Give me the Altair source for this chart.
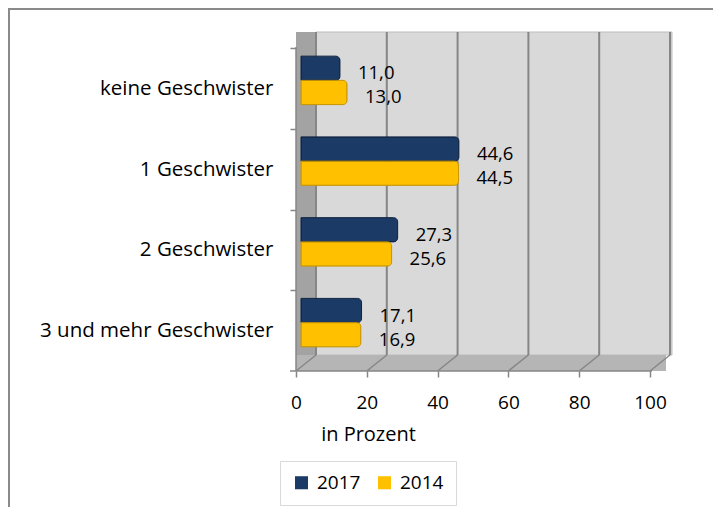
import altair as alt
import pandas as pd

categories = ["keine Geschwister", "1 Geschwister", "2 Geschwister", "3 und mehr Geschwister"]
series = ["2017", "2014"]
values_2017 = [11.0, 44.6, 27.3, 17.1]
values_2014 = [13.0, 44.5, 25.6, 16.9]
x_ticks = [0, 20, 40, 60, 80, 100]

rows = []
for c, a, b in zip(categories, values_2017, values_2014):
    rows.append({"cat": c, "Jahr": "2017", "v": a, "lab": f"{a:.1f}".replace(".", ",")})
    rows.append({"cat": c, "Jahr": "2014", "v": b, "lab": f"{b:.1f}".replace(".", ",")})
df = pd.DataFrame(rows)
ticks_df = pd.DataFrame({"t": x_ticks})
one = pd.DataFrame({"d": [0]})

FONT = "Open Sans"
GRID = "#868686"
STEP = 323 / 4.0

xscale = alt.Scale(domain=[0, 100], nice=False, zero=True)
yscale = alt.Scale(domain=categories, paddingInner=0.4, paddingOuter=0.2)

# 3D-like walls (decoration)
back_wall = alt.Chart(one).mark_rect(fill="#d9d9d9", stroke="#bdbdbd").encode(
    x=alt.value(15), x2=alt.value(371), y=alt.value(-8), y2=alt.value(315))
left_wall = alt.Chart(one).mark_rect(fill="#a3a3a3").encode(
    x=alt.value(-5), x2=alt.value(15), y=alt.value(-8), y2=alt.value(331))
floor = alt.Chart(one).mark_rect(fill="#b5b5b5").encode(
    x=alt.value(-5), x2=alt.value(365), y=alt.value(315), y2=alt.value(331))

grid = alt.Chart(ticks_df).mark_rule(color=GRID, strokeWidth=2, xOffset=15).encode(
    x=alt.X("t:Q", scale=xscale), y=alt.value(-8), y2=alt.value(315))
floor_grid = alt.Chart(ticks_df).mark_rule(color=GRID, strokeWidth=1.5, xOffset=-5, x2Offset=15).encode(
    x=alt.X("t:Q", scale=xscale), x2="t:Q", y=alt.value(331), y2=alt.value(315))
front_x = alt.Chart(one).mark_rule(color=GRID, strokeWidth=1.5).encode(
    x=alt.value(-11), x2=alt.value(351), y=alt.value(331))
front_y = alt.Chart(one).mark_rule(color=GRID, strokeWidth=1.5).encode(
    x=alt.value(-5), y=alt.value(7), y2=alt.value(331))

bars = alt.Chart(df).mark_bar(cornerRadiusTopRight=4, cornerRadiusBottomRight=4, strokeWidth=1).encode(
    x=alt.X("v:Q", scale=xscale,
            axis=alt.Axis(values=x_ticks, title="in Prozent", grid=False, domain=False,
                          tickColor=GRID, tickSize=6, tickWidth=1.5, offset=8, tickOffset=-5,
                          labelFlush=False,
                          labelFont=FONT, labelFontSize=19, labelColor="#000000", labelPadding=16,
                          titleFont=FONT, titleFontSize=20, titleFontWeight="normal", titleColor="#000000",
                          titleX=67, titleY=53, titleAlign="center")),
    y=alt.Y("cat:N", scale=yscale, sort=categories,
            axis=alt.Axis(title=None, domain=False, tickColor=GRID, tickSize=6, tickWidth=1.5,
                          offset=5, tickOffset=-STEP / 2 + 8, labelOffset=STEP / 2,
                          labelFont=FONT, labelFontSize=20.5, labelColor="#000000", labelPadding=17,
                          labelLimit=0)),
    yOffset=alt.YOffset("Jahr:N", sort=series),
    color=alt.Color("Jahr:N", sort=series,
                    scale=alt.Scale(domain=series, range=["#1b3a66", "#ffc000"]),
                    legend=alt.Legend(title=None, orient="none", legendX=-21, legendY=421,
                                      direction="horizontal", symbolType="square", symbolSize=170,
                                      labelFont=FONT, labelFontSize=19, labelColor="#000000",
                                      labelOffset=6, columnPadding=14, padding=12,
                                      strokeColor="#d9d9d9", fillColor="#ffffff",
                                      symbolStrokeWidth=0)),
    stroke=alt.Stroke("Jahr:N", sort=series,
                      scale=alt.Scale(domain=series, range=["#0f2340", "#c99700"]), legend=None),
)

labels = alt.Chart(df).mark_text(align="left", baseline="middle", dx=18, dy=5,
                                 font=FONT, fontSize=18.5, color="#000000").encode(
    x=alt.X("v:Q", scale=xscale),
    y=alt.Y("cat:N", scale=yscale, sort=categories),
    yOffset=alt.YOffset("Jahr:N", sort=series),
    text="lab:N",
)

border_top = alt.Chart(one).mark_rule(color="#8a8a8a", strokeWidth=2).encode(
    x=alt.value(-293), x2=alt.value(420), y=alt.value(-31))
border_left = alt.Chart(one).mark_rule(color="#8a8a8a", strokeWidth=2).encode(
    x=alt.value(-292), y=alt.value(-31), y2=alt.value(470))

chart = alt.layer(back_wall, left_wall, floor, grid, floor_grid, front_x, front_y,
                  bars, labels, border_top, border_left).properties(
    width=354, height=323,
    autosize=alt.AutoSizeParams(type="none"),
    padding={"left": 293, "top": 32, "right": 58, "bottom": 144},
    background="#ffffff",
).configure_view(stroke=None).resolve_scale(x="shared", y="shared")

chart.save("out.html", embed_options={"renderer": "svg", "actions": False})
